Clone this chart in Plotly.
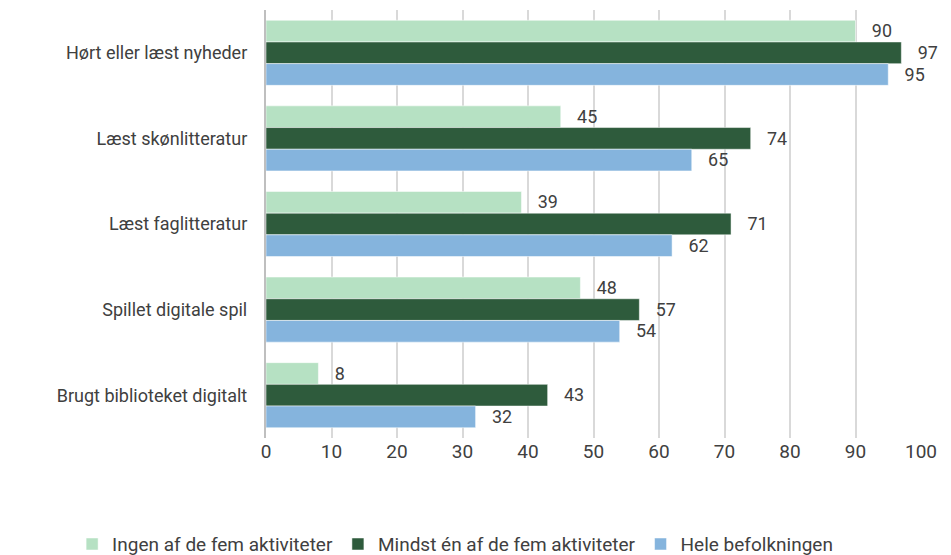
import plotly.graph_objects as go

categories = ["Hørt eller læst nyheder", "Læst skønlitteratur", "Læst faglitteratur",
              "Spillet digitale spil", "Brugt biblioteket digitalt"]
series_names = ["Ingen af de fem aktiviteter", "Mindst én af de fem aktiviteter", "Hele befolkningen"]
ingen = [90, 45, 39, 48, 8]
mindst = [97, 74, 71, 57, 43]
hele = [95, 65, 62, 54, 32]
x_ticks = [0, 10, 20, 30, 40, 50, 60, 70, 80, 90, 100]

colors = ["#b6e1c3", "#2e5b3c", "#85b4dd"]
FONT = "Roboto, sans-serif"
TXT = "#404040"
NBSP = "\u00a0"

fig = go.Figure()
for name, vals, col in zip(series_names, [ingen, mindst, hele], colors):
    fig.add_trace(go.Bar(
        y=categories, x=vals, name=name, orientation="h",
        marker=dict(color=col, line=dict(color="white", width=0.5)),
        text=[NBSP * 3 + str(v) for v in vals], textposition="outside",
        textfont=dict(size=19, color=TXT, family=FONT),
        cliponaxis=False,
    ))

# page body has an 8px margin, so the figure is sized/offset accordingly
fig.update_layout(
    width=943, height=547,
    margin=dict(l=258, r=30, t=2, b=117, autoexpand=False),
    paper_bgcolor="white", plot_bgcolor="white",
    barmode="group", bargap=0.24, bargroupgap=0,
    font=dict(family=FONT, color=TXT, size=18),
    legend=dict(orientation="h", x=-0.296, xanchor="left",
                y=-0.248, yanchor="middle",
                font=dict(size=19, color=TXT, family=FONT),
                itemwidth=30, traceorder="normal", tracegroupgap=0),
    showlegend=True,
)
fig.update_xaxes(range=[0, 100], tickvals=x_ticks, showgrid=True, gridcolor="#d9d9d9",
                 gridwidth=1.5, zeroline=False, showline=False, ticks="",
                 tickfont=dict(size=19, color=TXT, family=FONT))
fig.update_yaxes(autorange="reversed", showline=True, linecolor="#bfbfbf", linewidth=1.5,
                 ticks="", tickfont=dict(size=18, color=TXT, family=FONT), ticksuffix="   ")

fig.write_html("out.html")
